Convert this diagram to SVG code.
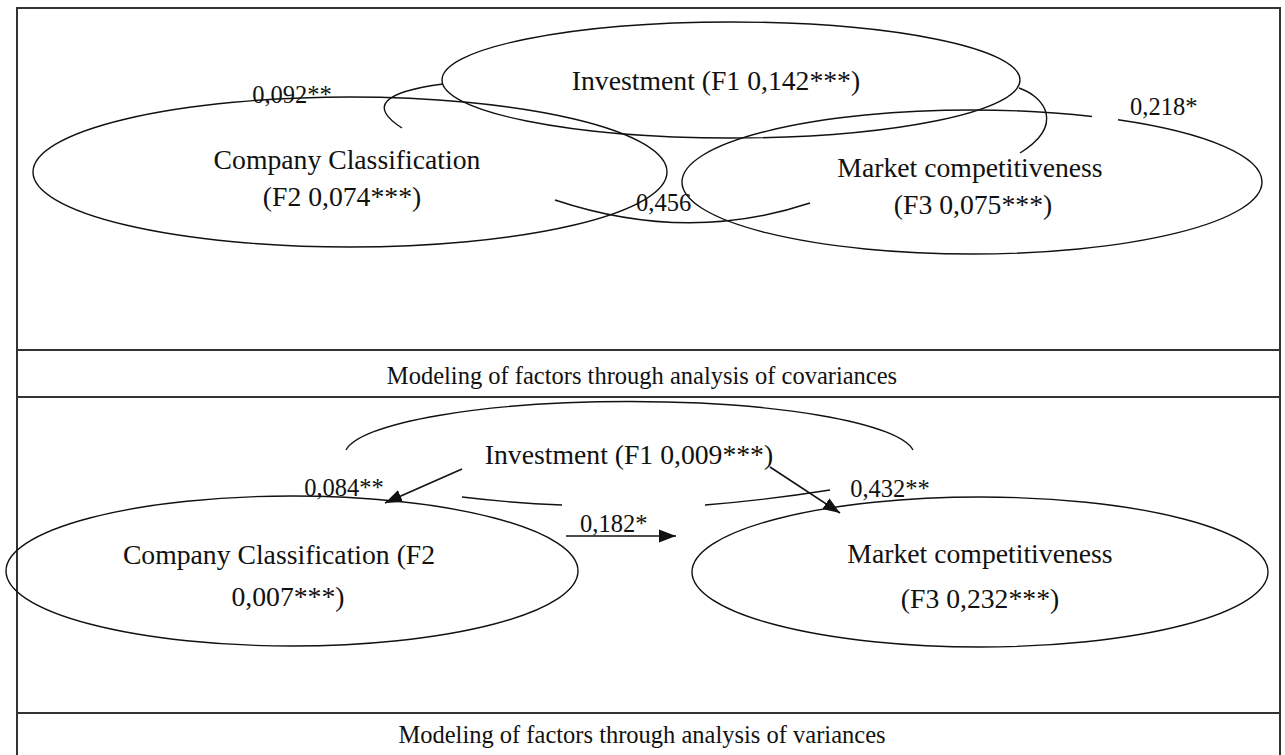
<svg xmlns="http://www.w3.org/2000/svg" width="1285" height="755" viewBox="0 0 1285 755">
<style>
  .frame { stroke: #333; stroke-width: 2; fill: none; }
  .node { fill: none; stroke: #111; stroke-width: 1.4; }
  .conn { fill: none; stroke: #111; stroke-width: 1.4; }
  .arrow { fill: none; stroke: #111; stroke-width: 1.6; marker-end: url(#ah); }
  .t { font-family: "Liberation Serif", "Times New Roman", serif; font-size: 27.7px; fill: #111; text-anchor: middle; }
  .lbl { font-family: "Liberation Serif", "Times New Roman", serif; font-size: 24.5px; fill: #111; }
  .cap { font-family: "Liberation Serif", "Times New Roman", serif; font-size: 24.5px; fill: #111; text-anchor: middle; }
</style>
<defs>
  <marker id="ah" markerUnits="userSpaceOnUse" markerWidth="18" markerHeight="14" viewBox="0 0 18 14" refX="17" refY="7" orient="auto">
    <path d="M0,0.5 L17,7 L0,13.5 z" fill="#111"/>
  </marker>
</defs>
<rect width="1285" height="755" fill="#fff"/>
<g id="frame">
  <line class="frame" x1="16" y1="8" x2="1281" y2="8"/>
  <line class="frame" x1="17" y1="8" x2="17" y2="755"/>
  <line class="frame" x1="1280" y1="8" x2="1280" y2="755"/>
  <line class="frame" x1="17" y1="350" x2="1280" y2="350"/>
  <line class="frame" x1="17" y1="397" x2="1280" y2="397"/>
  <line class="frame" x1="17" y1="713" x2="1280" y2="713"/>
</g>
<g id="captions">
  <text class="cap" x="642" y="384">Modeling of factors through analysis of covariances</text>
  <text class="cap" x="642" y="743">Modeling of factors through analysis of variances</text>
</g>
<g id="connectors">
  <path class="conn" d="M402,128 Q352,96 443,84"/>
  <path class="conn" d="M1019,88 C1045,97 1065,125 1020,153"/>
  <path class="conn" d="M555,200 Q687,244 810,203"/>
  <path class="conn" d="M346,450 A285,54 0 0 1 913,450"/>
  <path class="conn" d="M462,497 Q512,503 562,505"/>
  <path class="conn" d="M705,505 Q767,500 830,490"/>
  <line class="arrow" x1="462" y1="469" x2="385" y2="503"/>
  <line class="arrow" x1="770" y1="467" x2="840" y2="513"/>
  <line class="arrow" x1="566" y1="536" x2="676" y2="536"/>
  <text class="lbl" x="292" y="103" text-anchor="middle">0,092**</text>
  <text class="lbl" x="1130" y="115">0,218*</text>
  <text class="lbl" x="636" y="211">0,456</text>
  <text class="lbl" x="344" y="496" text-anchor="middle">0,084**</text>
  <text class="lbl" x="890" y="497" text-anchor="middle">0,432**</text>
  <text class="lbl" x="580" y="532">0,182*</text>
</g>
<g id="cov-investment">
  <ellipse class="node" cx="731" cy="80" rx="289" ry="58"/>
  <text class="t" x="716" y="90">Investment (F1 0,142***)</text>
</g>
<g id="cov-company">
  <ellipse class="node" cx="350" cy="172" rx="317" ry="75"/>
  <text class="t" x="347" y="169">Company Classification</text>
  <text class="t" x="342" y="206">(F2 0,074***)</text>
</g>
<g id="cov-market">
  <path class="node" d="M1118,119.8 A290,72 0 0 1 1262,182 A290,72 0 0 1 972,254 A290,72 0 0 1 682,182 A290,72 0 0 1 972,110 A290,72 0 0 1 1092,116.45"/>
  <text class="t" x="970" y="177">Market competitiveness</text>
  <text class="t" x="973" y="214">(F3 0,075***)</text>
</g>
<g id="var-investment">
  <text class="t" x="629" y="464">Investment (F1 0,009***)</text>
</g>
<g id="var-company">
  <ellipse class="node" cx="292" cy="571" rx="286" ry="75"/>
  <text class="t" x="279" y="564">Company Classification (F2</text>
  <text class="t" x="288" y="606">0,007***)</text>
</g>
<g id="var-market">
  <ellipse class="node" cx="980" cy="572" rx="288" ry="75"/>
  <text class="t" x="980" y="563">Market competitiveness</text>
  <text class="t" x="980" y="608">(F3 0,232***)</text>
</g>
</svg>
